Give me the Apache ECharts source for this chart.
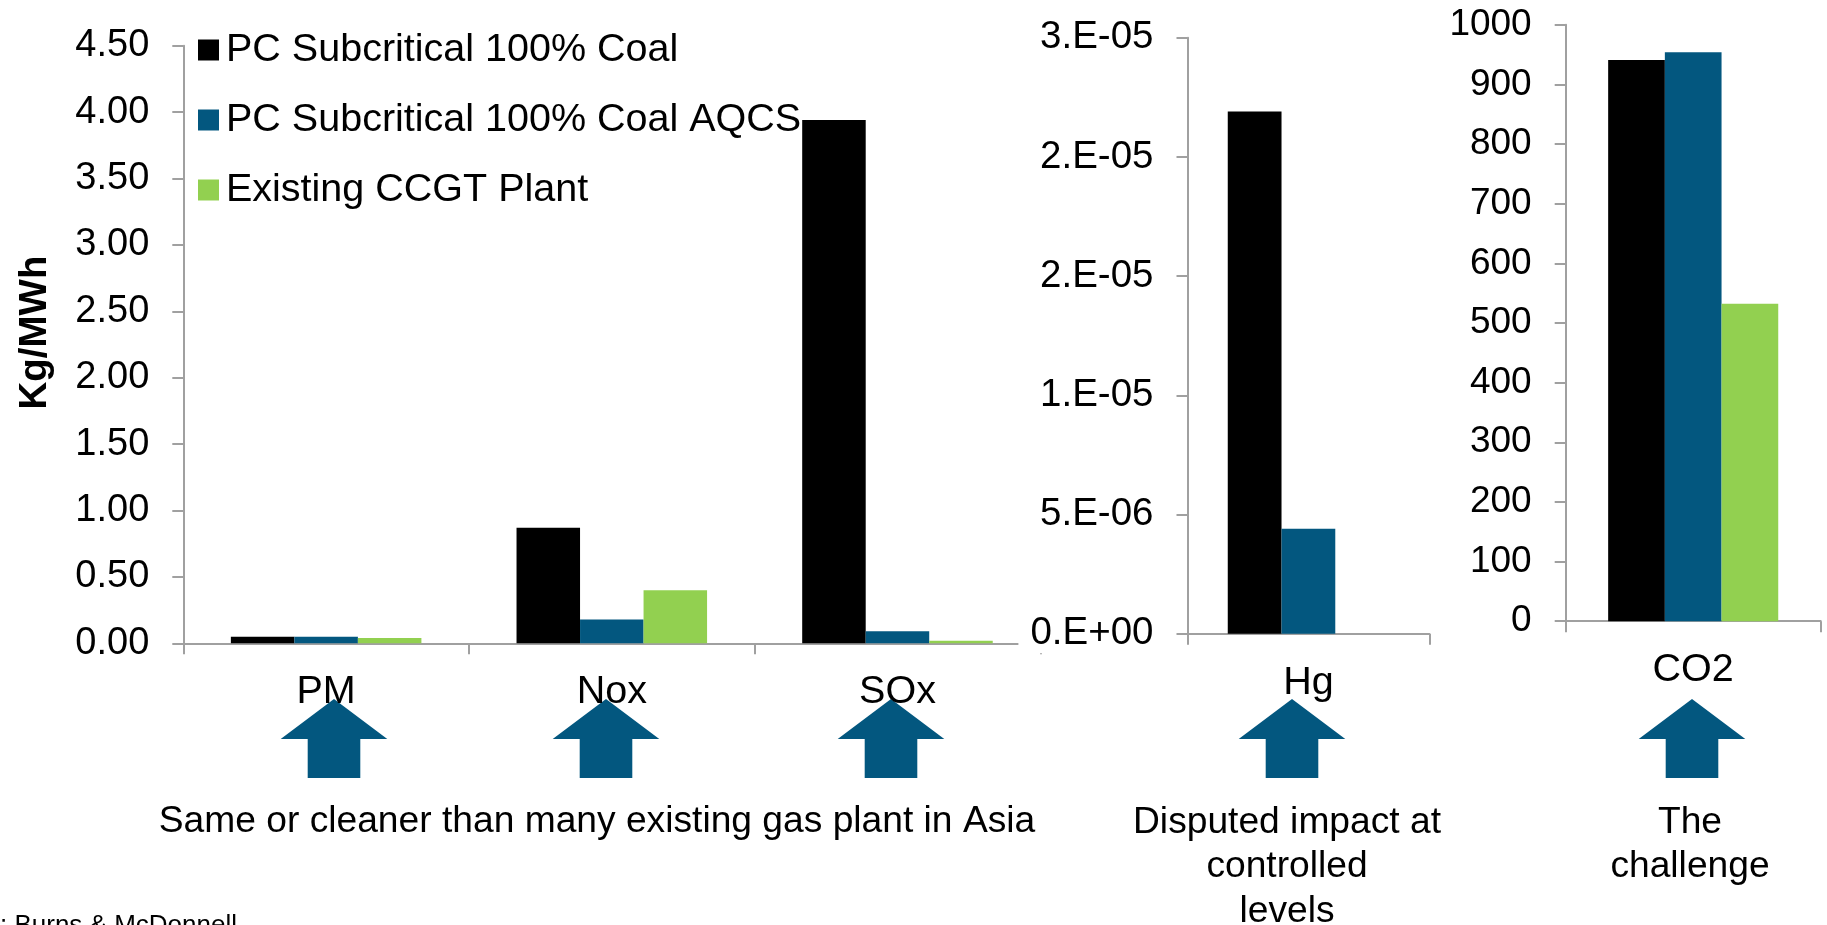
<!DOCTYPE html>
<html>
<head>
<meta charset="utf-8">
<script src="https://cdn.jsdelivr.net/npm/echarts@6/dist/echarts.min.js"></script>
<style>
html,body{margin:0;padding:0;background:#fff;}
#chart{width:1827px;height:925px;}
</style>
</head>
<body>
<div id="chart"></div>
<script>
// ---- data ----
const seriesNames = ['PC Subcritical 100% Coal', 'PC Subcritical 100% Coal AQCS', 'Existing CCGT Plant'];
const leftCategories = ['PM', 'Nox', 'SOx'];
const coalLeft = [0.05, 0.87, 3.94];
const aqcsLeft = [0.05, 0.18, 0.09];
const ccgtLeft = [0.04, 0.40, 0.02];
const hgCategories = ['Hg'];
const coalHg = [2.19e-5];
const aqcsHg = [4.4e-6];
const ccgtHg = [null];
const co2Categories = ['CO2'];
const coalCO2 = [941];
const aqcsCO2 = [954];
const ccgtCO2 = [532];
const yAxisTitle = 'Kg/MWh';
const noteLeft = 'Same or cleaner than many existing gas plant in Asia';
const noteHg = 'Disputed impact at\ncontrolled\nlevels';
const noteCO2 = 'The\nchallenge';
const sourceText = ': Burns & McDonnell';

// ---- style ----
const FONT = '"Liberation Sans", Arial, sans-serif';
const colors = ['#000000', '#03577F', '#92D050'];
const arrowColor = '#03577F';
const axisGray = '#A0A0A0';

function sciLabel(v) {
  if (Math.abs(v) < 1e-15) return '0.E+00';
  let e = Math.floor(Math.log10(Math.abs(v)) + 1e-9);
  let m = Math.round(v / Math.pow(10, e) + 1e-9);
  if (m >= 10) { m = m / 10; e += 1; }
  const sign = e < 0 ? '-' : '+';
  const ae = Math.abs(e);
  return m + '.E' + sign + (ae < 10 ? '0' + ae : ae);
}

function catAxis(gridIndex, data) {
  return {
    type: 'category', gridIndex: gridIndex, data: data,
    axisLine: { show: true, lineStyle: { color: axisGray, width: 2 } },
    axisTick: { show: true, length: 11, lineStyle: { color: axisGray, width: 2 } },
    axisLabel: { color: '#000', fontSize: 39.5, fontFamily: FONT, margin: 29 },
    splitLine: { show: false }
  };
}
function valAxis(gridIndex, min, max, interval, fontSize, formatter, extraLabel) {
  return {
    type: 'value', gridIndex: gridIndex, min: min, max: max, interval: interval,
    axisLine: { show: true, lineStyle: { color: axisGray, width: 2 } },
    axisTick: { show: true, length: 11, lineStyle: { color: axisGray, width: 2 } },
    axisLabel: Object.assign({ color: '#000', fontSize: fontSize, fontFamily: FONT, margin: 34, formatter: formatter }, extraLabel || {}),
    splitLine: { show: false }
  };
}
function bars(name, xi, yi, data, color) {
  return {
    name: name, type: 'bar', xAxisIndex: xi, yAxisIndex: yi, data: data,
    barGap: '0%', barCategoryGap: '33.3%',
    itemStyle: { color: color }, silent: true
  };
}

const chart = echarts.init(document.getElementById('chart'), null, { renderer: 'canvas' });

const leftY = valAxis(0, 0, 4.5, 0.5, 38, v => v.toFixed(2));
leftY.name = yAxisTitle;
leftY.nameLocation = 'middle';
leftY.nameGap = 128;
leftY.nameTextStyle = { fontSize: 38.5, fontWeight: 'bold', color: '#000', fontFamily: FONT, padding: [0, 0, 0, 24] };

function arrow(cx) {
  const tip = 699, base = 739, bottom = 778, hw = 53.3, sw = 26.3;
  return {
    type: 'polygon', silent: true,
    shape: { points: [[cx, tip], [cx + hw, base], [cx + sw, base], [cx + sw, bottom], [cx - sw, bottom], [cx - sw, base], [cx - hw, base]] },
    style: { fill: arrowColor }
  };
}
function note(text, x, y, size, lh) {
  return {
    type: 'text', silent: true, x: x, y: y,
    style: { text: text, fill: '#000', font: size + 'px ' + FONT, align: 'center', verticalAlign: 'top', lineHeight: lh }
  };
}

const option = {
  animation: false,
  backgroundColor: '#fff',
  legend: {
    orient: 'vertical', left: 198, top: 30, padding: 0,
    data: seriesNames,
    icon: 'rect', itemWidth: 21, itemHeight: 21, itemGap: 30,
    textStyle: { fontSize: 39.5, color: '#000', fontFamily: FONT, lineHeight: 40, padding: [0, 0, 0, 2] },
    selectedMode: false
  },
  grid: [
    { left: 183.3, top: 45.7, width: 857, height: 597.6, containLabel: false, outerBoundsMode: 'none' },
    { left: 1187.5, top: 37.7, width: 241.8, height: 596, containLabel: false, outerBoundsMode: 'none' },
    { left: 1565.7, top: 24.7, width: 255, height: 596.5, containLabel: false, outerBoundsMode: 'none' }
  ],
  xAxis: [catAxis(0, leftCategories), catAxis(1, hgCategories), catAxis(2, co2Categories)],
  yAxis: [
    leftY,
    valAxis(1, 0, 2.5e-5, 5e-6, 38.5, sciLabel, { backgroundColor: '#fff', padding: [0, 0, 0, 12] }),
    valAxis(2, 0, 1000, 100, 37, v => String(Math.round(v)))
  ],
  series: [
    bars(seriesNames[0], 0, 0, coalLeft, colors[0]),
    bars(seriesNames[1], 0, 0, aqcsLeft, colors[1]),
    bars(seriesNames[2], 0, 0, ccgtLeft, colors[2]),
    bars(seriesNames[0], 1, 1, coalHg, colors[0]),
    bars(seriesNames[1], 1, 1, aqcsHg, colors[1]),
    bars(seriesNames[2], 1, 1, ccgtHg, colors[2]),
    bars(seriesNames[0], 2, 2, coalCO2, colors[0]),
    bars(seriesNames[1], 2, 2, aqcsCO2, colors[1]),
    bars(seriesNames[2], 2, 2, ccgtCO2, colors[2])
  ],
  graphic: [
    arrow(334), arrow(606), arrow(891), arrow(1292), arrow(1692),
    note(noteLeft, 597, 799, 37.2, 44.5),
    note(noteHg, 1287, 800, 37.2, 44.5),
    note(noteCO2, 1690, 800, 37.2, 44.5),
    { type: 'text', silent: true, x: 0, y: 913, style: { text: sourceText, fill: '#000', font: '26px ' + FONT, align: 'left', verticalAlign: 'top', lineHeight: 26 } }
  ]
};
chart.setOption(option);
</script>
</body>
</html>
